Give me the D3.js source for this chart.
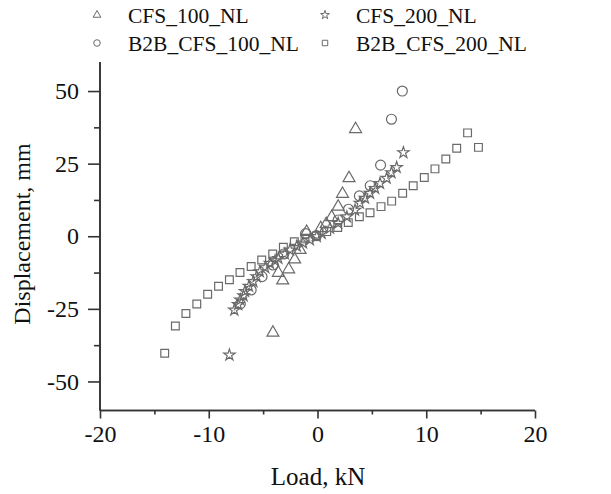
<!DOCTYPE html>
<html>
<head>
<meta charset="utf-8">
<script src="https://cdn.jsdelivr.net/npm/d3@7"></script>
<style>
html,body{margin:0;padding:0;background:#fff;}
svg{display:block;}
</style>
</head>
<body>
<svg id="chart" width="611" height="494"></svg>
<script>
// ---- data ----
const seriesNames = ["CFS_100_NL", "CFS_200_NL", "B2B_CFS_100_NL", "B2B_CFS_200_NL"];

const cfs100X = [-4.1, -3.6, -3.2, -2.65, -2.1, -1.6, -1.0, 0.3, 0.8, 1.3, 1.9, 2.3, 2.9, 3.5];
const cfs100Y = [-33.2, -12.6, -15.2, -11.4, -8.0, -4.7, 1.5, 2.8, 4.2, 6.6, 10.2, 14.6, 20.0, 36.9];

const cfs200X = [-8.1, -7.65, -7.3, -7.1, -6.8, -6.67, -6.3, -5.9, -5.6, -5.3, -4.8, -4.37, -3.9, -3.6, -3.0, -2.53, -1.9, -1.33, -0.7, -0.07, 0.38, 1.15, 1.9, 2.7, 3.45, 3.9, 4.37, 4.83, 5.3, 5.75, 6.36, 6.8, 7.28, 7.9];
const cfs200Y = [-40.9, -25.4, -23.5, -21.9, -20.5, -19.0, -17.2, -15.6, -13.9, -12.2, -10.8, -9.3, -8.4, -7.6, -6.1, -4.7, -3.4, -2.3, -1.2, -0.1, 1.0, 2.8, 4.5, 6.7, 9.0, 11.4, 13.1, 14.8, 16.5, 18.2, 20.0, 21.9, 23.7, 28.8];

const b2b100X = [-7.1, -6.1, -5.1, -4.1, -3.1, -1.1, -0.1, 1.9, 2.85, 3.85, 4.85, 5.8, 6.8, 7.8];
const b2b100Y = [-23.3, -18.5, -13.9, -9.9, -6.1, 0.9, 0.2, 5.6, 9.3, 13.9, 17.4, 24.5, 40.3, 50.0];

const b2b200X = [-14.05, -13.07, -12.1, -11.1, -10.1, -9.1, -8.1, -7.13, -6.1, -5.13, -4.12, -3.14, -2.13, -1.15, -0.1, 0.85, 1.86, 2.83, 3.85, 4.83, 5.84, 6.82, 7.83, 8.8, 9.82, 10.8, 11.8, 12.8, 13.8, 14.8];
const b2b200Y = [-40.3, -30.9, -26.6, -23.3, -20.0, -17.2, -15.0, -12.5, -10.4, -8.2, -6.1, -3.8, -1.9, -0.7, 0.1, 1.6, 3.0, 4.7, 6.7, 8.1, 10.2, 12.1, 14.8, 17.4, 20.2, 23.2, 26.6, 30.3, 35.6, 30.6];

const xMajorTicks = [-20, -10, 0, 10, 20];
const xMinorTicks = [-15, -5, 5, 15];
const yMajorTicks = [-50, -25, 0, 25, 50];
const yMinorTicks = [-37.5, -12.5, 12.5, 37.5];

// ---- layout ----
const svg = d3.select("#chart");
const font = "'Liberation Serif', 'Times New Roman', serif";
const ink = "#333";
const markColor = "#6a6a6a";
const fmt = d => String(d); // plain hyphen-minus, as in the reference

const x = d3.scaleLinear().domain([-20, 20]).range([100, 535]);
const y = d3.scaleLinear().domain([-60, 60]).range([410.5, 62]);

// axes
const gx = svg.append("g").attr("transform", `translate(0,${y(-60)})`);
gx.call(d3.axisBottom(x).tickValues(xMajorTicks).tickSize(8).tickPadding(6).tickFormat(fmt));
const gxm = svg.append("g").attr("transform", `translate(0,${y(-60)})`);
gxm.call(d3.axisBottom(x).tickValues(xMinorTicks).tickSize(4).tickFormat(""));

const gy = svg.append("g").attr("transform", `translate(${x(-20)},0)`);
gy.call(d3.axisLeft(y).tickValues(yMajorTicks).tickSize(12).tickPadding(9).tickFormat(fmt));
const gym = svg.append("g").attr("transform", `translate(${x(-20)},0)`);
gym.call(d3.axisLeft(y).tickValues(yMinorTicks).tickSize(6).tickFormat(""));

svg.selectAll(".domain").attr("stroke", ink).attr("stroke-width", 1.6);
svg.selectAll(".tick line").attr("stroke", ink).attr("stroke-width", 1.6);
svg.selectAll(".tick text").attr("font-family", font).attr("font-size", 24).attr("fill", "#111");
[gx, gxm].forEach(g => g.select(".domain").attr("d", `M${x(-20)},0H${x(20)}`));
[gy, gym].forEach(g => g.select(".domain").attr("d", `M0,${y(60)}V${y(-60)}`));

// axis titles
svg.append("text").attr("x", 318).attr("y", 485).attr("text-anchor", "middle")
  .attr("font-family", font).attr("font-size", 25).attr("fill", "#111").text("Load, kN");
svg.append("text").attr("transform", `translate(30,234) rotate(-90)`).attr("text-anchor", "middle")
  .attr("font-family", font).attr("font-size", 24).attr("fill", "#111").text("Displacement, mm");

// markers
const series = [
  {name: seriesNames[0], xs: cfs100X, ys: cfs100Y, type: d3.symbolTriangle, size: 62, lsize: 26},
  {name: seriesNames[1], xs: cfs200X, ys: cfs200Y, type: d3.symbolStar, size: 40, lsize: 24},
  {name: seriesNames[2], xs: b2b100X, ys: b2b100Y, type: d3.symbolCircle, size: 78, lsize: 34},
  {name: seriesNames[3], xs: b2b200X, ys: b2b200Y, type: d3.symbolSquare, size: 60, lsize: 30}
];

const plot = svg.append("g");
series.forEach(s => {
  const pts = s.xs.map((v, i) => [v, s.ys[i]]);
  plot.append("g").selectAll("path").data(pts).join("path")
    .attr("transform", d => `translate(${x(d[0])},${y(d[1])})`)
    .attr("d", d3.symbol().type(s.type).size(s.size))
    .attr("fill", "none").attr("stroke", markColor).attr("stroke-width", 1.2);
});

// legend
const legendPos = [[97, 15], [325, 15], [97, 43], [325, 43]];
const leg = svg.append("g");
series.forEach((s, i) => {
  const [lx, ly] = legendPos[i];
  leg.append("path").attr("transform", `translate(${lx},${ly})`)
    .attr("d", d3.symbol().type(s.type).size(s.lsize))
    .attr("fill", "none").attr("stroke", markColor).attr("stroke-width", 1);
  leg.append("text").attr("x", lx + 31).attr("y", ly).attr("dy", "0.35em")
    .attr("font-family", font).attr("font-size", 21.5).attr("fill", "#111").text(s.name);
});
</script>
</body>
</html>
